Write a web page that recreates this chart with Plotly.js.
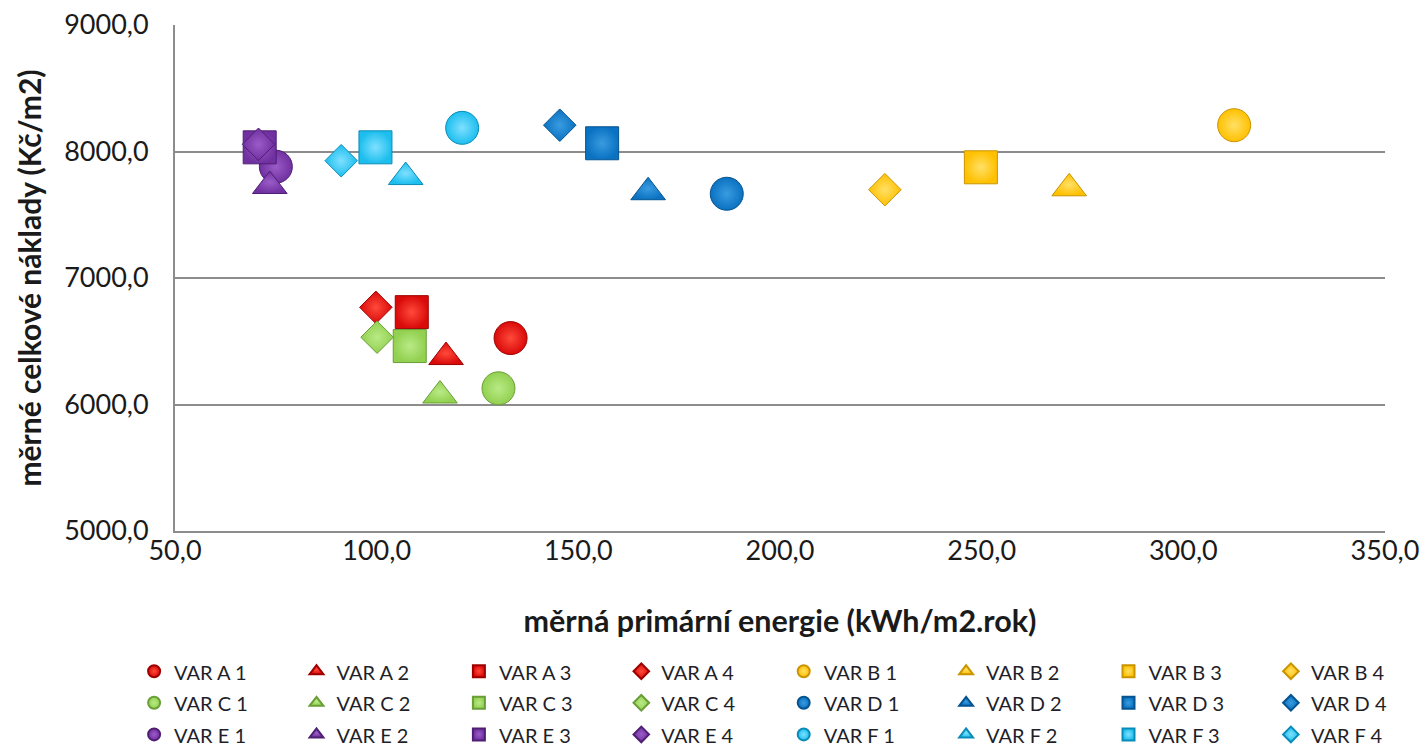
<!DOCTYPE html>
<html>
<head>
<meta charset="utf-8">
<script src="https://cdn.plot.ly/plotly-3.0.1.min.js"></script>
<style>
html,body{margin:0;padding:0;background:#fff;}
#chart{width:1428px;height:750px;}
</style>
</head>
<body>
<div id="chart"></div>
<script>
// ---- data ----
const seriesNames = [
  'VAR A 1','VAR A 2','VAR A 3','VAR A 4',
  'VAR B 1','VAR B 2','VAR B 3','VAR B 4',
  'VAR C 1','VAR C 2','VAR C 3','VAR C 4',
  'VAR D 1','VAR D 2','VAR D 3','VAR D 4',
  'VAR E 1','VAR E 2','VAR E 3','VAR E 4',
  'VAR F 1','VAR F 2','VAR F 3','VAR F 4'
];
// měrná primární energie (kWh/m2.rok)
const primaryEnergy = [
  133.2, 117.2, 108.7, 99.8,
  312.6, 271.7, 249.8, 226.0,
  130.2, 115.7, 108.2, 100.1,
  186.8, 167.3, 155.9, 145.4,
  75.0, 73.5, 71.0, 70.7,
  121.2, 107.2, 99.7, 91.2
];
// měrné celkové náklady (Kč/m2)
const totalCost = [
  6525, 6375, 6730, 6768,
  8208, 7709, 7875, 7698,
  6128, 6071, 6462, 6532,
  7666, 7678, 8065, 8208,
  7880, 7727, 8033, 8057,
  8187, 7798, 8033, 7927
];
const xTickVals = [50, 100, 150, 200, 250, 300, 350];
const yTickVals = [5000, 6000, 7000, 8000, 9000];

// ---- styles ----
const groupFill = {A:'#D90A0A', B:'#FFC000', C:'#92D050', D:'#0A72C2', E:'#7030A0', F:'#1CBEEE'};
const groupLine = {A:'#9E0000', B:'#C99400', C:'#6A9E38', D:'#05538F', E:'#4F1F74', F:'#0A8CB8'};
const groupGlow = {A:'#FF4A3A', B:'#FFE066', C:'#B9EA86', D:'#3A9BE0', E:'#9A5CC8', F:'#7FE0FF'};
const symbolByIndex = ['circle','triangle-up','square','diamond'];
const sizeByIndex = [33, 30, 33, 25];

const traces = seriesNames.map((name, i) => {
  const g = name.charAt(4);
  const k = i % 4;
  return {
    type: 'scatter',
    mode: 'markers',
    name: '<span style="font-size:20px">' + name + '</span>',
    x: [primaryEnergy[i]],
    y: [totalCost[i]],
    marker: {
      symbol: symbolByIndex[k],
      size: sizeByIndex[k],
      color: groupFill[g],
      gradient: {type: 'radial', color: groupGlow[g]},
      line: {color: groupLine[g], width: 1}
    },
    hoverinfo: 'x+y+name'
  };
});

const layout = {
  width: 1428,
  height: 750,
  paper_bgcolor: '#ffffff',
  plot_bgcolor: '#ffffff',
  separators: ', ',
  margin: {l: 175, r: 43, t: 25, b: 219, pad: 0, autoexpand: false},
  font: {family: 'Lato, "Open Sans", sans-serif', color: '#1a1a1a'},
  showlegend: true,
  xaxis: {
    range: [50, 350],
    tickvals: xTickVals,
    tickformat: '.1f',
    showgrid: false,
    zeroline: false,
    showline: true,
    linecolor: '#8c8c8c',
    linewidth: 2,
    ticks: '',
    ticklabelstandoff: -5,
    tickfont: {size: 27, color: '#1a1a1a'},
    title: {text: 'měrná primární energie (kWh/m2.rok)', font: {size: 30.5, weight: 'bold', color: '#1a1a1a'}, standoff: 45}
  },
  yaxis: {
    range: [5000, 9000],
    tickvals: yTickVals,
    tickformat: '.1f',
    showgrid: true,
    gridcolor: '#8c8c8c',
    gridwidth: 2,
    zeroline: false,
    showline: true,
    linecolor: '#8c8c8c',
    linewidth: 2,
    ticks: '',
    ticklabelstandoff: 19,
    tickfont: {size: 27, color: '#1a1a1a'},
    title: {text: 'měrné celkové náklady (Kč/m2)', font: {size: 30, weight: 'bold', color: '#1a1a1a'}, standoff: 14}
  },
  legend: {
    orientation: 'h',
    x: -0.0338,
    xanchor: 'left',
    y: -0.236,
    yanchor: 'top',
    itemsizing: 'constant',
    entrywidth: 117.4,
    entrywidthmode: 'pixels',
    traceorder: 'normal',
    font: {size: 22, color: '#1f1f2a'},
    bgcolor: 'rgba(0,0,0,0)'
  }
};

Plotly.newPlot('chart', traces, layout, {displayModeBar: false, staticPlot: true});
</script>
</body>
</html>
